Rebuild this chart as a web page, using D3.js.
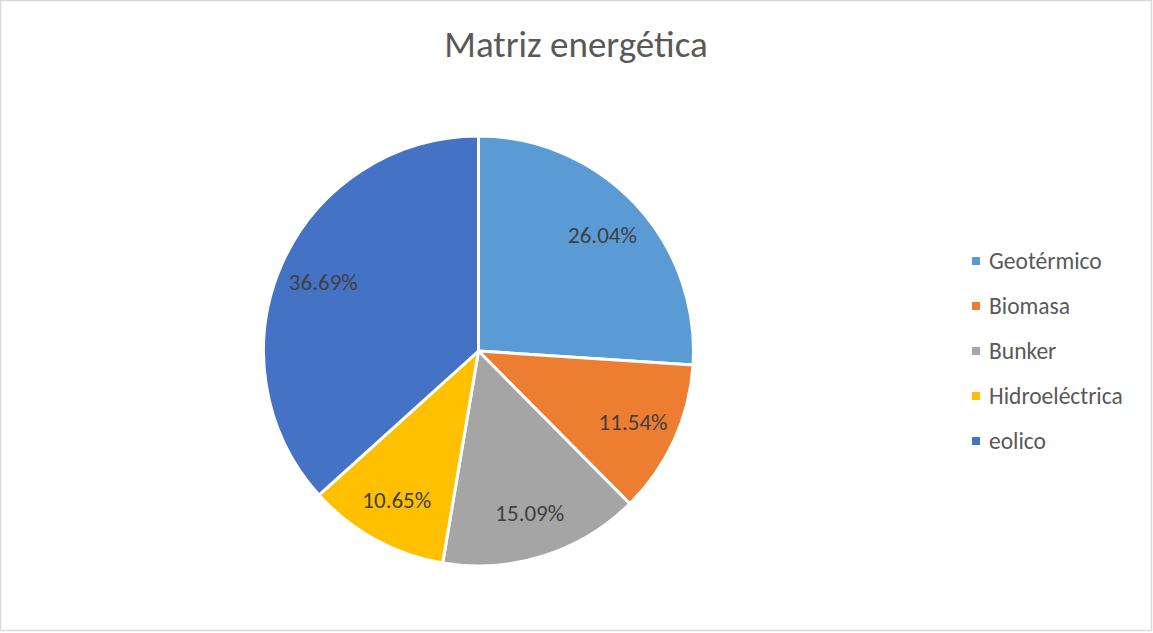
<!DOCTYPE html>
<html><head><meta charset="utf-8">
<script src="https://cdn.jsdelivr.net/npm/d3@7"></script>
<style>body{margin:0;background:#fff;} svg{display:block;}</style>
</head><body>
<svg id="c" width="1153" height="633"></svg>
<script>
const categories = ["Geotérmico", "Biomasa", "Bunker", "Hidroeléctrica", "eolico"];
const values = [26.04, 11.54, 15.09, 10.65, 36.69];
const colors = ["#5B9BD5", "#ED7D31", "#A5A5A5", "#FFC000", "#4472C4"];
const title = "Matriz energética";

const svg = d3.select("#c");
const W = 1153, H = 633;
const font = "Carlito, Calibri, 'Open Sans', 'Liberation Sans', sans-serif";
svg.append("rect").attr("x", 0.5).attr("y", 0.5).attr("width", W - 2).attr("height", H - 3)
  .attr("fill", "#fff").attr("stroke", "#D9D9D9").attr("stroke-width", 1.5);

svg.append("text").attr("x", 576).attr("y", 57).attr("text-anchor", "middle")
  .attr("font-family", font).attr("font-size", 37).attr("fill", "#595959").text(title);

const cx = 478.5, cy = 351, R = 215;
const data = categories.map((c, i) => ({cat: c, v: values[i], col: colors[i]}));
const pie = d3.pie().value(d => d.v).sort(null);
const arc = d3.arc().innerRadius(0).outerRadius(R);
const labelArc = d3.arc().innerRadius(R * 0.79).outerRadius(R * 0.79);
const g = svg.append("g").attr("transform", `translate(${cx},${cy})`);
const arcs = pie(data);
g.selectAll("path").data(arcs).join("path")
  .attr("d", arc).attr("fill", d => d.data.col)
  .attr("stroke", "#fff").attr("stroke-width", 3).attr("stroke-linejoin", "round");
g.selectAll("text").data(arcs).join("text")
  .attr("transform", d => `translate(${labelArc.centroid(d)})`)
  .attr("text-anchor", "middle").attr("dy", "0.35em")
  .attr("font-family", font).attr("font-size", 23).attr("fill", "#404040")
  .text(d => d.data.v.toFixed(2) + "%");

const leg = svg.append("g");
const ly = d3.scalePoint().domain(categories).range([261, 441]);
categories.forEach((c, i) => {
  leg.append("rect").attr("x", 972).attr("y", ly(c) - 4).attr("width", 8).attr("height", 8).attr("fill", colors[i]);
  leg.append("text").attr("x", 989).attr("y", ly(c)).attr("dy", "0.35em")
    .attr("font-family", font).attr("font-size", 23.5).attr("fill", "#595959").text(c);
});
</script>
</body></html>
